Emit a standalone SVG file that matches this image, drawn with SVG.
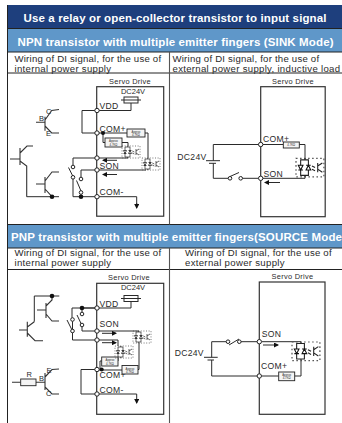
<svg xmlns="http://www.w3.org/2000/svg" width="342" height="423" viewBox="0 0 342 423">
<style>
text{font-family:"Liberation Sans",Arial,sans-serif;fill:#2a2a2a}
.h{font-weight:bold;fill:#fff}
.t{font-size:9.6px;letter-spacing:.45px}
.s{font-size:7.4px;letter-spacing:.3px}
.l{font-size:8.6px;letter-spacing:.3px}
.m{font-size:7.5px}
.r{font-size:2.8px;text-anchor:middle}
.w{fill:none;stroke:#2a2a2a;stroke-width:1}
.b{fill:none;stroke:#333;stroke-width:1.2}
.g{fill:none;stroke:#333;stroke-width:1.1}
.c{fill:#fff;stroke:#222;stroke-width:1}
.d{fill:#111}
.rb{fill:#f4f4f4;stroke:#222;stroke-width:.9}
.o{fill:none;stroke:#555;stroke-width:.8;stroke-dasharray:1 1.6}
.n{fill:none;stroke:#222;stroke-width:.7}
.f{fill:#fff;stroke:#111;stroke-width:.7}
</style>
<defs>
<marker id="a" markerWidth="5" markerHeight="5" refX="4" refY="2.500" orient="auto" markerUnits="userSpaceOnUse"><path d="M0 0L5 2.500L0 5Z" fill="#111"/></marker>
<g id="opto"><rect class="o" x="0" y="0" width="18" height="12"/><path class="n" d="M5.800 0V1M5.800 11V12M3 1H8V11H3Z"/><path class="f" d="M1.500 4.500H4.500L3 7.500ZM1.500 7.500H4.500"/><path class="f" d="M6.500 7.500H9.500L8 4.500ZM6.500 4.500H9.500"/><path class="n" d="M10.300 5L12.300 6M10.300 7L12.300 8M14 3V9M14 5L17 3M14 7L17 9"/></g>
<g id="bat"><rect class="w" x="-7" y="-3" width="14" height="6" fill="#fff"/><path class="w" d="M-10 0h20"/></g>
</defs>
<rect width="342" height="423" fill="#fff"/>

<g id="table">
<rect x="7" y="5" width="335" height="23.500" fill="#1e3f7d"/>
<rect x="7" y="28.500" width="335" height="23.500" fill="#5f97c9"/>
<rect x="7" y="224.500" width="335" height="23.500" fill="#5f97c9"/>
<path fill="none" stroke="#222" stroke-width="1" d="M7.500 5V423M7 28.500H342M7 52H342M7 73H342M7 224.500H342M7 248H342M7 269.500H342"/>
<path fill="none" stroke="#555" stroke-width="1.100" d="M169.500 52V224.500M169.500 248V423"/>
<text class="h" x="23.500" y="21.500" font-size="11.500" textLength="303">Use a relay or open-collector transistor to input signal</text>
<text class="h" x="17.500" y="45.500" font-size="11.500" textLength="316">NPN transistor with multiple emitter fingers (SINK Mode)</text>
<text class="h" x="11" y="241" font-size="11.500" textLength="331">PNP transistor with multiple emitter fingers(SOURCE Mode</text>
<text class="t" x="14.500" y="62" textLength="147">Wiring of DI signal, for the use of</text>
<text class="t" x="14.500" y="71.500" textLength="97">internal power supply</text>
<text class="t" x="172.500" y="62" textLength="147">Wiring of DI signal, for the use of</text>
<text class="t" x="172.500" y="71.500" textLength="168">external power supply, inductive load</text>
<text class="t" x="14.500" y="256" textLength="147">Wiring of DI signal, for the use of</text>
<text class="t" x="14.500" y="266" textLength="97">internal power supply</text>
<text class="t" x="185" y="256" textLength="147">Wiring of DI signal, for the use of</text>
<text class="t" x="185" y="266" textLength="100">external power supply</text>
</g>

<g id="connectors">
<path class="w" d="M131 103V110.500H82V133H127M145 133H148V158M103 133V142.500H105M122 142.500H128V146M97 158H128M97 158H73V165M73 179V196.700H97M97 170H146V170M81 170V177M97 170H81M81 194.500V196.700M97 196.700H136.700V204M26.700 196.700H59"/>
<path class="w" d="M68.500 167.500L73 176.500M76.500 180.500L81 191"/>
<path class="w" marker-end="url(#a)" d="M117 160.300H103"/>
<path class="w" marker-end="url(#a)" d="M117 174.500H103"/>
<path class="w" marker-end="url(#a)" d="M136.700 203V208"/>
<path class="w" d="M260.700 144.500H213.300V160.700M206 160.700H220M209 163.300H216M213.300 163.300V178.300H228M230 176.500L239 172.500M242.500 178.300H258.500M263 178.300H305V177M263 144.500H283.300M299.300 144.500H305V159"/>
<path class="w" marker-end="url(#a)" d="M280 182.500H265"/>
<path class="w" d="M131 302V308H72V317.700M97 308H82V312M97 331H139V331M82 326.800V331H97M72.500 321.300V340H97M97 340H118V346M118 358V361H101.700M101.700 361H100V369.500M122 370H97M139 343V369.500H138M97 369.500H81V394H97M97 394H136.700V398M34.300 321.700V296H59.300"/>
<path class="w" d="M67 320L71.500 329M77 315L81.500 324.500"/>
<path class="w" marker-end="url(#a)" d="M102 333.300H116"/>
<path class="w" marker-end="url(#a)" d="M102 342.700H116"/>
<path class="w" marker-end="url(#a)" d="M136.700 398V403"/>
<path class="w" d="M259.300 341.700H241M239 339L229 345M226 341.700H211.700V357.300M204 357.300H217.700M207.500 360H214M211.700 360V376H257M262 376H278.700M294.700 376H301V361M262 341.700H301V342"/>
<path class="w" marker-end="url(#a)" d="M263 345H278"/>
</g>

<g id="npn-internal-drive">
<rect class="b" x="96.700" y="86.700" width="67" height="129.500"/>
<text class="s" x="130" y="83.500" text-anchor="middle">Servo Drive</text>
<text class="m" x="133" y="93.500" text-anchor="middle">DC24V</text>
<use href="#bat" x="131" y="100"/>
<circle class="c" cx="97" cy="110.500" r="2.200"/><text class="l" x="99.500" y="109.300">VDD</text>
<circle class="c" cx="97" cy="133" r="2.200"/><circle class="d" cx="103" cy="133" r="2"/><text class="l" x="99.500" y="131.500">COM+</text>
<circle class="c" cx="97" cy="158" r="2.200"/>
<circle class="c" cx="97" cy="170" r="2.200"/><text class="l" x="99.500" y="168.800">SON</text>
<circle class="c" cx="97" cy="196.700" r="2.200"/><text class="l" x="99.500" y="195">COM-</text>
<rect class="rb" x="127" y="129" width="18" height="8"/><text class="r" x="136" y="132.500">Approx</text><text class="r" x="136" y="136">4.7KΩ</text>
<rect class="rb" x="105" y="138" width="17" height="9"/><text class="r" x="113.500" y="142">Approx</text><text class="r" x="113.500" y="145.500">4.7KΩ</text>
<use href="#opto" x="122" y="146"/>
<use href="#opto" x="142" y="158"/>
</g>
<g id="npn-internal-transistors">
<path class="g" d="M45 116.700V130.700M36 122.300H45M45 120L51.700 110.500L59 109.500M45 126L51.700 133L59 133"/>
<text class="m" x="39" y="120.500">B</text><text class="m" x="46" y="114">C</text><text class="m" x="46" y="135.500">E</text>
<path class="g" d="M20 148V165M10 159H20M20 153L27 146H33M20 161L26.700 166V196.700"/>
<path class="g" d="M45 177V193M36 184H45M45 181L52 172H59M45 189L52 196.700"/>
<circle class="d" cx="52" cy="196.700" r="2.300"/>
<circle class="d" cx="81" cy="196.700" r="2.300"/>
<circle class="c" cx="73" cy="167" r="1.800"/><circle class="c" cx="73" cy="177.300" r="1.800"/>
<circle class="c" cx="81" cy="179" r="1.800"/><circle class="c" cx="81" cy="192.500" r="1.800"/>
</g>

<g id="npn-external-drive">
<rect class="b" x="260.700" y="86.700" width="64.500" height="130"/>
<text class="s" x="293" y="83.500" text-anchor="middle">Servo Drive</text>
<text class="l" x="177.300" y="160">DC24V</text>
<circle class="c" cx="260.700" cy="144.500" r="2.200"/><text class="l" x="263" y="142">COM+</text>
<circle class="c" cx="260.700" cy="178.300" r="2.200"/><text class="l" x="263.500" y="176.700">SON</text>
<circle class="c" cx="230" cy="178.300" r="1.800"/><circle class="c" cx="240.700" cy="178.300" r="1.800"/>
<rect class="rb" x="283.300" y="142" width="16" height="6"/><text class="r" x="291.300" y="146">4.7KΩ</text>
<use href="#opto" transform="translate(296 158.300) scale(1.550)"/>
</g>

<g id="pnp-internal-drive">
<rect class="b" x="96.700" y="283.300" width="67" height="131"/>
<text class="s" x="129" y="280" text-anchor="middle">Servo Drive</text>
<text class="m" x="133" y="289.500" text-anchor="middle">DC24V</text>
<use href="#bat" x="131" y="298.500"/>
<circle class="c" cx="97" cy="308" r="2.200"/><text class="l" x="99.500" y="306.700">VDD</text>
<circle class="c" cx="97" cy="331" r="2.200"/><text class="l" x="99.500" y="326.700">SON</text>
<circle class="c" cx="97" cy="340" r="2.200"/>
<circle class="c" cx="97" cy="369.500" r="2.200"/><circle class="d" cx="101.700" cy="369.500" r="2"/><text class="l" x="99.500" y="377.500">COM+</text>
<circle class="c" cx="97" cy="394" r="2.200"/><text class="l" x="99.500" y="392.700">COM-</text>
<rect class="rb" x="101.700" y="357" width="16.300" height="9"/><text class="r" x="110" y="361">Approx</text><text class="r" x="110" y="364.500">4.7KΩ</text>
<rect class="rb" x="122" y="365.500" width="16" height="8.500"/><text class="r" x="130" y="369.500">Approx</text><text class="r" x="130" y="373">4.7KΩ</text>
<use href="#opto" x="115" y="346"/>
<use href="#opto" x="133" y="331"/>
</g>
<g id="pnp-internal-transistors">
<path class="g" d="M27.300 321.700V336.700M19 330H27.300M27.300 327L34.300 321.700M27.300 333L35 340.700H43"/>
<path class="g" d="M46 303V318M37 310H46M46 306L52 300V296M46 314L52 321H59"/>
<path class="g" d="M12 382.300H20.700M36 382.300H45M45 373V390M45 377L52 369.500L59 369M45 387L52 394H59"/>
<rect class="rb" x="20.700" y="379" width="15.300" height="6.700"/>
<circle class="d" cx="52" cy="296" r="2.300"/>
<circle class="d" cx="82" cy="308" r="2.300"/>
<text class="m" x="26.500" y="377">R</text><text class="m" x="39" y="381">B</text><text class="m" x="46.500" y="373">E</text><text class="m" x="46" y="396">C</text>
<circle class="c" cx="72.500" cy="319.500" r="1.800"/><circle class="c" cx="72.500" cy="331" r="1.800"/>
<circle class="c" cx="82" cy="314" r="1.800"/><circle class="c" cx="82" cy="325" r="1.800"/>
</g>

<g id="pnp-external-drive">
<rect class="b" x="259.300" y="282" width="65.700" height="132.300"/>
<text class="s" x="292.500" y="279" text-anchor="middle">Servo Drive</text>
<text class="l" x="174.700" y="356">DC24V</text>
<circle class="c" cx="259.300" cy="341.700" r="2.200"/><text class="l" x="261.700" y="337.300">SON</text>
<circle class="c" cx="259.300" cy="376" r="2.200"/><text class="l" x="261" y="369.300">COM+</text>
<circle class="c" cx="228" cy="341.700" r="1.800"/><circle class="c" cx="239.300" cy="341.700" r="1.800"/>
<rect class="rb" x="278.700" y="372" width="16" height="8.700"/><text class="r" x="286.700" y="375.800">Approx</text><text class="r" x="286.700" y="379.300">4.7KΩ</text>
<use href="#opto" transform="translate(292 342) scale(1.550)"/>
</g>
</svg>
